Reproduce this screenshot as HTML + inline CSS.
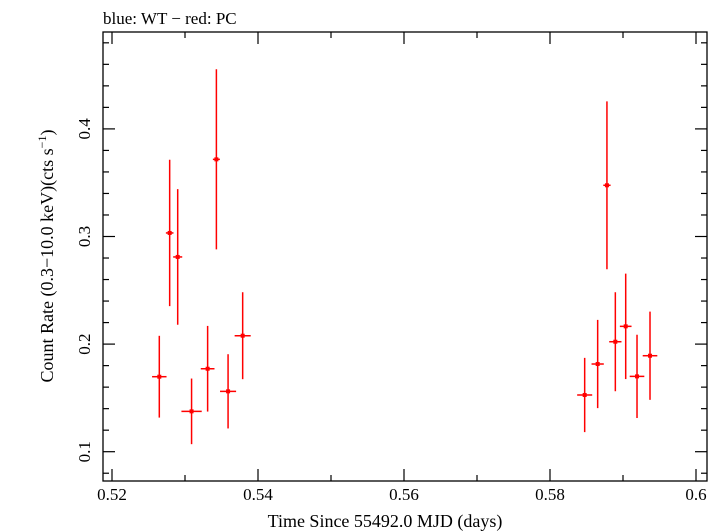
<!DOCTYPE html>
<html><head><meta charset="utf-8"><style>
html,body{margin:0;padding:0;background:#fff;}
svg{display:block;font-family:"Liberation Serif",serif;}
</style></head><body>
<svg id="chart" width="724" height="532" viewBox="0 0 724 532" xmlns="http://www.w3.org/2000/svg">
<text x="103" y="24" font-size="17">blue: WT − red: PC</text>
<rect x="103" y="32" width="604" height="449" fill="none" stroke="#000" stroke-width="1.3"/>
<g id="ticks"></g>
<g id="points"></g>
<text x="385" y="527" font-size="18" text-anchor="middle">Time Since 55492.0 MJD (days)</text>
<text transform="translate(53,256) rotate(-90)" font-size="18" text-anchor="middle">Count Rate (0.3−10.0 keV)(cts s<tspan dy="-7" font-size="12">−1</tspan><tspan dy="7">)</tspan></text>
</svg>
<script>
const times = [0.52648,0.5279,0.5290,0.5309,0.5331,0.5343,0.5359,0.5379,0.58475,0.58653,0.5878,0.58895,0.59037,0.59192,0.5937];
const timeErr = [0.00099,0.00052,0.00062,0.00139,0.00094,0.00048,0.0011,0.0011,0.00103,0.00084,0.0005,0.00084,0.0008,0.001,0.001];
const rates = [0.1697,0.3033,0.281,0.1375,0.1771,0.3717,0.1561,0.2078,0.1527,0.1815,0.3476,0.2022,0.2165,0.170,0.1892];
const rateErr = [0.038,0.068,0.063,0.0305,0.0398,0.0837,0.0345,0.0404,0.0345,0.041,0.078,0.046,0.049,0.0387,0.041];
const xTicks = [0.52,0.54,0.56,0.58,0.60];
const xTickLabels = ["0.52","0.54","0.56","0.58","0.6"];
const yTicks = [0.1,0.2,0.3,0.4];
const yTickLabels = ["0.1","0.2","0.3","0.4"];

const L=103,R=707,T=32,B=481;
const xs = v => 112 + (v-0.52)*7300;
const ys = v => 451.7 - (v-0.1)*1076;
const NS="http://www.w3.org/2000/svg";
function mk(tag, attrs, parent){const e=document.createElementNS(NS,tag);for(const k in attrs)e.setAttribute(k,attrs[k]);parent.appendChild(e);return e;}
const tg=document.getElementById('ticks');
for(let i=0;i<=8;i++){const v=0.52+i*0.01;const x=xs(v);const major=i%2===0;const len=major?12:6;
 const t1=mk('line',{x1:x,x2:x,y1:B,y2:B-len,stroke:'#000','stroke-width':1.2},tg);
 
 
 const t2=mk('line',{x1:x,x2:x,y1:T,y2:T+len,stroke:'#000','stroke-width':1.2},tg);
 
 }
xTicks.forEach((v,i)=>{const t=mk('text',{x:xs(v),y:B+19,'font-size':17,'text-anchor':'middle'},tg);t.textContent=xTickLabels[i];
 
 });
for(let i=-1;i<=19;i++){const v=0.1+i*0.02;const y=ys(v);if(y<T||y>B)continue;const major=Math.abs((v*10)-Math.round(v*10))<1e-6;const len=major?12:6;
 const t1=mk('line',{x1:L,x2:L+len,y1:y,y2:y,stroke:'#000','stroke-width':1.2},tg);
 
 
 const t2=mk('line',{x1:R,x2:R-len,y1:y,y2:y,stroke:'#000','stroke-width':1.2},tg);
 
 }
yTicks.forEach((v,i)=>{const t=mk('text',{transform:`translate(${L-13},${ys(v)}) rotate(-90)`,'font-size':17,'text-anchor':'middle'},tg);t.textContent=yTickLabels[i];
 
 });
const pg=document.getElementById('points');
times.forEach((t,i)=>{const g=mk('g',{},pg);
 
 
 const x=xs(t),y=ys(rates[i]);
 mk('line',{x1:x,x2:x,y1:ys(rates[i]+rateErr[i]),y2:ys(rates[i]-rateErr[i]),stroke:'#f00','stroke-width':1.5},g);
 mk('line',{x1:xs(t-timeErr[i]),x2:xs(t+timeErr[i]),y1:y,y2:y,stroke:'#f00','stroke-width':1.5},g);
 mk('rect',{x:x-2,y:y-2,width:4,height:4,fill:'#f00'},g);});
</script>
</body></html>
